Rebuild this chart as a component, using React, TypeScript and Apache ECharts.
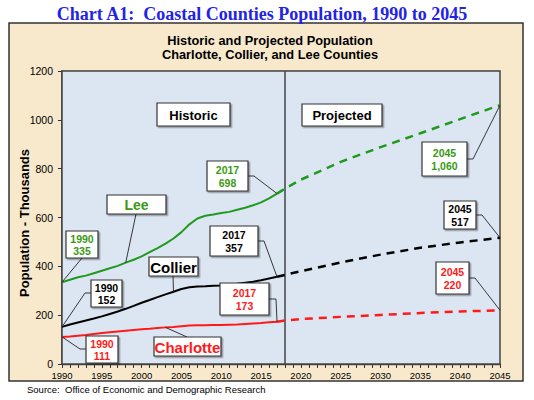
import React, { useEffect, useRef } from "react";
import * as echarts from "echarts";

const histYears = [1990, 1991, 1992, 1993, 1994, 1995, 1996, 1997, 1998, 1999, 2000, 2001, 2002, 2003, 2004, 2005, 2006, 2007, 2008, 2009, 2010, 2011, 2012, 2013, 2014, 2015, 2016, 2017];
const leeHist = [335, 345, 355, 362, 372, 382, 392, 402, 415, 427, 441, 458, 475, 493, 514, 540, 572, 596, 607, 612, 618, 623, 632, 640, 650, 662, 678, 698];
const collierHist = [152, 162, 170, 178, 186, 195, 205, 215, 226, 238, 251, 262, 274, 285, 296, 307, 314, 317, 318, 320, 322, 326, 329, 333, 337, 343, 350, 357];
const charlotteHist = [111, 113, 116, 119, 123, 127, 130, 133, 136, 139, 142, 144, 147, 150, 152, 155, 158, 159, 159, 160, 160, 161, 162, 164, 166, 168, 171, 173];

const projYears = [2017, 2018, 2020, 2025, 2030, 2035, 2040, 2045];
const leeProj = [698, 718, 755, 828, 888, 945, 1003, 1060];
const collierProj = [357, 365, 380, 416, 448, 476, 498, 517];
const charlotteProj = [173, 178, 184, 193, 201, 209, 215, 220];

const GREEN = "#1f9a1f";
const GREEN_TXT = "#3a9a12";
const RED = "#ff1a1a";
const BLACK = "#000000";

const zip = (xs: number[], ys: number[]) => xs.map((x, i) => [x, ys[i]]);

export default function App() {
  const ref = useRef<HTMLDivElement>(null);
  useEffect(() => {
    if (!ref.current) return;
    const chart = echarts.init(ref.current, null, { renderer: "svg" });
    const option: any = {
      animation: false,
      backgroundColor: "#ffffff",
      grid: {
        left: 62,
        right: 34,
        top: 71,
        bottom: 36,
        show: true,
        backgroundColor: "#dce6f2",
        borderColor: "#444",
        borderWidth: 1.5,
        z: 1,
      },
      xAxis: {
        type: "value",
        min: 1990,
        max: 2045,
        interval: 5,
        axisLine: { show: true, lineStyle: { color: "#333", width: 1.5 } },
        axisTick: { show: true, length: 4, lineStyle: { color: "#333" } },
        minorTick: { show: true, splitNumber: 5, length: 4, lineStyle: { color: "#333" } },
        splitLine: { show: false },
        axisLabel: { color: "#000", fontSize: 9.5, fontFamily: "Liberation Sans, Arial", margin: 6, formatter: (v: number) => String(v) },
      },
      yAxis: {
        type: "value",
        min: 0,
        max: 1200,
        interval: 200,
        axisLine: { show: true, lineStyle: { color: "#333", width: 1.5 } },
        axisTick: { show: true, length: 4, lineStyle: { color: "#333" } },
        splitLine: { show: true, lineStyle: { color: "#555", width: 1.3 } },
        axisLabel: { color: "#000", fontSize: 10.5, fontFamily: "Liberation Sans, Arial", margin: 9, formatter: (v: number) => String(v) },
      },
      series: [
        {
          type: "line",
          data: zip(histYears, leeHist),
          showSymbol: false,
          lineStyle: { color: GREEN, width: 2 },
          z: 5,
          markLine: {
            silent: true,
            symbol: "none",
            label: { show: false },
            lineStyle: { color: "#444", width: 1.5, type: "solid" },
            data: [{ xAxis: 2018 }],
          },
        },
        { type: "line", data: zip(projYears, leeProj), showSymbol: false, lineStyle: { color: GREEN, width: 2.5, type: [8, 6] }, z: 5 },
        { type: "line", data: zip(histYears, collierHist), showSymbol: false, lineStyle: { color: BLACK, width: 2 }, z: 5 },
        { type: "line", data: zip(projYears, collierProj), showSymbol: false, lineStyle: { color: BLACK, width: 2.5, type: [8, 6] }, z: 5 },
        { type: "line", data: zip(histYears, charlotteHist), showSymbol: false, lineStyle: { color: RED, width: 2 }, z: 5 },
        { type: "line", data: zip(projYears, charlotteProj), showSymbol: false, lineStyle: { color: RED, width: 2.5, type: [8, 6] }, z: 5 },
      ],
    };
    chart.setOption(option);

    const P = (x: number, y: number) => chart.convertToPixel({ gridIndex: 0 }, [x, y]) as number[];
    const hv = (arr: number[], year: number) => arr[histYears.indexOf(year)];

    const box = (x: number, y: number, w: number, h: number, text: string, color: string, size: number, family = "Liberation Sans, Arial") => [
      {
        type: "rect",
        z: 100,
        shape: { x, y, width: w, height: h },
        style: { fill: "#fff", stroke: "#333", lineWidth: 1.2, shadowColor: "rgba(0,0,0,0.35)", shadowOffsetX: 1.5, shadowOffsetY: 1.5, shadowBlur: 1 },
      },
      {
        type: "text",
        z: 101,
        x: x + w / 2,
        y: y + h / 2 + 0.5,
        style: { text, fill: color, font: `bold ${size}px ${family}`, align: "center", verticalAlign: "middle", lineHeight: size + 2 },
      },
    ];
    const leader = (pts: number[][]) => ({
      type: "polyline",
      z: 99,
      shape: { points: pts },
      style: { stroke: "#222", lineWidth: 0.9, fill: "none" },
    });

    const graphic: any[] = [
      {
        type: "rect",
        z: -10,
        shape: { x: 9, y: 23, width: 514, height: 358 },
        style: { fill: "#f8e9cd", stroke: "#333", lineWidth: 1.5 },
      },
      {
        type: "text",
        z: 100,
        x: 262,
        y: 14,
        style: { text: "Chart A1:  Coastal Counties Population, 1990 to 2045", fill: "#2323e6", font: "bold 18px Liberation Serif, serif", align: "center", verticalAlign: "middle" },
      },
      {
        type: "text",
        z: 100,
        x: 270,
        y: 40,
        style: { text: "Historic and Projected Population", fill: "#000", font: "bold 12.8px Liberation Sans, Arial", align: "center", verticalAlign: "middle" },
      },
      {
        type: "text",
        z: 100,
        x: 270,
        y: 54.5,
        style: { text: "Charlotte, Collier, and Lee Counties", fill: "#000", font: "bold 12.8px Liberation Sans, Arial", align: "center", verticalAlign: "middle" },
      },
      {
        type: "text",
        z: 100,
        x: 24,
        y: 223,
        rotation: Math.PI / 2,
        style: { text: "Population - Thousands", fill: "#000", font: "bold 13px Liberation Sans, Arial", align: "center", verticalAlign: "middle" },
      },
      {
        type: "text",
        z: 100,
        x: 27,
        y: 389,
        style: { text: "Source:  Office of Economic and Demographic Research", fill: "#000", font: "9.5px Liberation Sans, Arial", align: "left", verticalAlign: "middle" },
      },
      ...box(157, 103, 73, 23, "Historic", "#000", 13),
      ...box(302, 104, 80, 22, "Projected", "#000", 13),
      // Lee
      leader([[82, 258], P(1990, hv(leeHist, 1990))]),
      ...box(66, 231, 32, 27, "1990\n335", GREEN_TXT, 10.5),
      leader([[136, 214], P(1998, hv(leeHist, 1998))]),
      ...box(107, 195, 59, 19, "Lee", GREEN_TXT, 14),
      leader([[248, 176], [254, 176], P(2017, hv(leeHist, 2017))]),
      ...box(207, 161, 41, 30, "2017\n698", GREEN_TXT, 10.5),
      leader([[467, 159], [473, 159], P(2045, leeProj[leeProj.length - 1])]),
      ...box(422, 142, 45, 34, "2045\n1,060", GREEN_TXT, 10.5),
      // Collier
      leader([[91, 293], [85, 293], P(1990, hv(collierHist, 1990))]),
      ...box(91, 280, 31, 27, "1990\n152", BLACK, 10.5),
      leader([[173, 276], P(2004, hv(collierHist, 2004))]),
      ...box(149, 257, 49, 19, "Collier", BLACK, 15),
      leader([[258, 241], [264, 241], P(2017, hv(collierHist, 2017))]),
      ...box(210, 226, 48, 30, "2017\n357", BLACK, 10.5),
      leader([[476, 215], [482, 215], P(2045, collierProj[collierProj.length - 1])]),
      ...box(444, 201, 32, 28, "2045\n517", BLACK, 10.5),
      // Charlotte
      leader([[86, 349], [80, 349], P(1990, hv(charlotteHist, 1990))]),
      ...box(86, 336, 32, 27, "1990\n111", RED, 10.5),
      leader([[187, 337], P(2003, hv(charlotteHist, 2003))]),
      ...box(154, 337, 67, 19, "Charlotte", RED, 15),
      leader([[269, 299], [276, 299], P(2017, hv(charlotteHist, 2017))]),
      ...box(220, 283, 49, 32, "2017\n173", RED, 10.5),
      leader([[469, 278], [475, 278], P(2045, charlotteProj[charlotteProj.length - 1])]),
      ...box(436, 262, 33, 32, "2045\n220", RED, 10.5),
    ];
    chart.setOption({ graphic });
    return () => chart.dispose();
  }, []);
  return <div ref={ref} style={{ position: "fixed", left: 0, top: 0, width: 534, height: 400 }} />;
}
